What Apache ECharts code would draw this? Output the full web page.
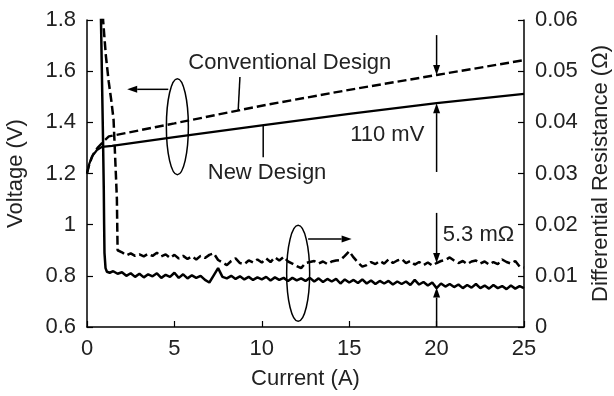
<!DOCTYPE html>
<html>
<head>
<meta charset="utf-8">
<script src="https://cdn.jsdelivr.net/npm/echarts@6/dist/echarts.min.js"></script>
<style>
  html, body { margin: 0; padding: 0; background: #fff; }
  #chart { width: 614px; height: 396px; }
</style>
</head>
<body>
<div id="chart"></div>
<script>
// voltage curves (A, V)
const vNewDesign = [[0, 1.2], [0.1, 1.232], [0.28, 1.266], [0.57, 1.292], [0.86, 1.304], [1.43, 1.308],
  [5, 1.342], [10, 1.388], [15, 1.433], [20, 1.475], [25, 1.511]];
const vConvDesign = [[0, 1.2], [0.15, 1.24], [0.35, 1.275], [0.6, 1.3], [0.9, 1.322], [1.25, 1.345],
  [5, 1.396], [10, 1.465], [15, 1.527], [20, 1.585], [25, 1.643]];

// differential resistance, steep start (A, ohm)
const rNewHead = [[0.79, 0.066], [0.80, 0.060], [0.86, 0.048], [0.92, 0.036], [0.96, 0.027], [0.98, 0.020],
  [1.0, 0.0145], [1.06, 0.0115], [1.14, 0.0108], [1.3, 0.0106], [1.5, 0.0109], [1.75, 0.0104]];
const rConvHead = [[0.90, 0.066], [0.92, 0.060], [1.08, 0.053], [1.24, 0.048], [1.4, 0.044], [1.52, 0.0405],
  [1.65, 0.030], [1.71, 0.025], [1.75, 0.015], [1.85, 0.0147]];

// differential resistance, flat noisy part
const currentGrid = [
  2, 2.25, 2.5, 2.75, 3, 3.25, 3.5, 3.75, 4, 4.25, 4.5, 4.75, 5, 5.25, 5.5, 5.75,
  6, 6.25, 6.5, 6.75, 7, 7.25, 7.5, 7.75, 8, 8.25, 8.5, 8.75, 9, 9.25, 9.5, 9.75,
  10, 10.25, 10.5, 10.75, 11, 11.25, 11.5, 11.75, 12, 12.25, 12.5, 12.75, 13, 13.25, 13.5, 13.75,
  14, 14.25, 14.5, 14.75, 15, 15.25, 15.5, 15.75, 16, 16.25, 16.5, 16.75, 17, 17.25, 17.5, 17.75,
  18, 18.25, 18.5, 18.75, 19, 19.25, 19.5, 19.75, 20, 20.25, 20.5, 20.75, 21, 21.25, 21.5, 21.75,
  22, 22.25, 22.5, 22.75, 23, 23.25, 23.5, 23.75, 24, 24.25, 24.5, 24.75, 25];
const rNewFlat = [
  0.0107, 0.0100, 0.0105, 0.0098, 0.0104, 0.0097, 0.0103, 0.0099, 0.0105, 0.0096, 0.0102, 0.0098, 0.0106, 0.0096, 0.0103, 0.0095,
  0.0101, 0.0096, 0.0100, 0.0092, 0.0087, 0.0101, 0.0115, 0.0098, 0.0095, 0.0100, 0.0094, 0.0099, 0.0093, 0.0098, 0.0092, 0.0097,
  0.0093, 0.0098, 0.0091, 0.0097, 0.0092, 0.0096, 0.0090, 0.0096, 0.0091, 0.0095, 0.0090, 0.0096, 0.0089, 0.0095, 0.0088, 0.0094,
  0.0089, 0.0094, 0.0085, 0.0093, 0.0087, 0.0092, 0.0086, 0.0093, 0.0085, 0.0091, 0.0084, 0.0090, 0.0085, 0.0090, 0.0083, 0.0089,
  0.0084, 0.0089, 0.0082, 0.0092, 0.0083, 0.0088, 0.0081, 0.0087, 0.0076, 0.0085, 0.0079, 0.0084, 0.0078, 0.0083, 0.0076, 0.0082,
  0.0077, 0.0084, 0.0076, 0.0081, 0.0075, 0.0082, 0.0076, 0.0080, 0.0074, 0.0081, 0.0075, 0.0080, 0.0076];
const rConvFlat = [
  0.0146, 0.0140, 0.0144, 0.0139, 0.0142, 0.0138, 0.0143, 0.0139, 0.0145, 0.0138, 0.0142, 0.0135, 0.0141, 0.0134, 0.0139, 0.0133,
  0.0138, 0.0132, 0.0139, 0.0135, 0.0141, 0.0144, 0.0131, 0.0126, 0.0121, 0.0129, 0.0134, 0.0125, 0.0123, 0.0130, 0.0126, 0.0132,
  0.0126, 0.0134, 0.0127, 0.0136, 0.0130, 0.0137, 0.0128, 0.0124, 0.0119, 0.0115, 0.0125, 0.0127, 0.0129, 0.0124, 0.0128, 0.0123,
  0.0128, 0.0130, 0.0131, 0.0139, 0.0148, 0.0136, 0.0126, 0.0118, 0.0121, 0.0127, 0.0123, 0.0129, 0.0124, 0.0132, 0.0125, 0.0130,
  0.0133, 0.0125, 0.0129, 0.0122, 0.0127, 0.0121, 0.0126, 0.0120, 0.0125, 0.0129, 0.0131, 0.0136, 0.0130, 0.0125, 0.0129, 0.0123,
  0.0128, 0.0130, 0.0124, 0.0128, 0.0122, 0.0127, 0.0123, 0.0132, 0.0127, 0.0124, 0.0129, 0.0118, 0.0116];

const FONT = '"Liberation Sans", Arial, sans-serif';
const TEXT = '#222';
const FS = 22;

const chart = echarts.init(document.getElementById('chart'));

const withGrid = (head, flat) => head.concat(currentGrid.map((x, i) => [x, flat[i]]));
const trim = v => String(parseFloat(v.toFixed(3)));

const axisCommon = {
  axisLine: { show: true, lineStyle: { color: '#000', width: 1.5 } },
  axisTick: { show: true, inside: true, length: 6, lineStyle: { color: '#000', width: 1.2 } },
  splitLine: { show: false },
  axisLabel: { color: TEXT, fontSize: FS, fontFamily: FONT, margin: 11, formatter: trim },
  nameTextStyle: { color: TEXT, fontSize: FS, fontFamily: FONT },
  nameLocation: 'middle'
};

const lineSeries = (name, data, yAxisIndex, dashed, width) => ({
  name, type: 'line', data, yAxisIndex,
  showSymbol: false, symbol: 'none', clip: true,
  lineStyle: { color: '#000', width, type: dashed ? [9, 4] : 'solid' }
});

chart.setOption({
  animation: false,
  grid: { left: 87, right: 90, top: 20, bottom: 69, outerBoundsMode: 'none', containLabel: false },
  xAxis: Object.assign({}, axisCommon, {
    type: 'value', min: 0, max: 25, interval: 5,
    name: 'Current (A)', nameGap: 41
  }),
  yAxis: [
    Object.assign({}, axisCommon, {
      type: 'value', min: 0.6, max: 1.8, interval: 0.2, position: 'left',
      name: 'Voltage (V)', nameGap: 60
    }),
    Object.assign({}, axisCommon, {
      type: 'value', min: 0, max: 0.06, interval: 0.01, position: 'right',
      name: 'Differential Resistance (\u03A9)', nameGap: 66
    })
  ],
  series: [
    lineSeries('V new', vNewDesign, 0, false, 2.2),
    lineSeries('V conventional', vConvDesign, 0, true, 2.4),
    lineSeries('R new', withGrid(rNewHead, rNewFlat), 1, false, 2.5),
    lineSeries('R conventional', withGrid(rConvHead, rConvFlat), 1, true, 2.5)
  ]
});

// annotations, anchored in data coordinates
const pv = (x, y) => chart.convertToPixel({ xAxisIndex: 0, yAxisIndex: 0 }, [x, y]);
const pr = (x, y) => chart.convertToPixel({ xAxisIndex: 0, yAxisIndex: 1 }, [x, y]);

function arrow(from, to) {
  const dx = to[0] - from[0], dy = to[1] - from[1];
  const len = Math.hypot(dx, dy), ux = dx / len, uy = dy / len;
  const bx = to[0] - ux * 10, by = to[1] - uy * 10;
  return [
    { type: 'line', shape: { x1: from[0], y1: from[1], x2: bx, y2: by }, style: { stroke: '#000', lineWidth: 1.5 } },
    { type: 'polygon', shape: { points: [to, [bx - uy * 3.5, by + ux * 3.5], [bx + uy * 3.5, by - ux * 3.5]] }, style: { fill: '#000' } }
  ];
}
function line(a, b) {
  return { type: 'line', shape: { x1: a[0], y1: a[1], x2: b[0], y2: b[1] }, style: { stroke: '#000', lineWidth: 1.5 } };
}
function ellipse(c, rx, ry) {
  return { type: 'ellipse', shape: { cx: c[0], cy: c[1], rx, ry }, style: { fill: null, stroke: '#000', lineWidth: 1.5 } };
}
function label(text, p, align) {
  return { type: 'text', x: p[0], y: p[1], style: {
    text, fill: TEXT, fontSize: FS, fontFamily: FONT,
    align, textAlign: align, verticalAlign: 'middle', textVerticalAlign: 'middle' } };
}

const g = [].concat(
  ellipse(pv(5.17, 1.383), 11, 48),
  arrow(pv(4.65, 1.529), pv(2.3, 1.529)),
  label('Conventional Design', pv(11.6, 1.632), 'center'),
  line(pv(8.75, 1.577), pv(8.65, 1.448)),
  label('New Design', pv(10.3, 1.202), 'center'),
  line(pv(10.08, 1.39), pv(10.08, 1.264)),
  label('110 mV', pv(19.3, 1.35), 'right'),
  arrow(pv(20, 1.741), pv(20, 1.585)),
  arrow(pv(20, 1.206), pv(20, 1.475)),
  arrow(pr(20, 0.0223), pr(20, 0.0125)),
  arrow(pr(20, 0), pr(20, 0.0077)),
  label('5.3 m\u03A9', pr(20.35, 0.018), 'left'),
  ellipse(pr(12.08, 0.0105), 11.5, 48),
  arrow(pr(12.65, 0.0172), pr(15.14, 0.0172))
);
chart.setOption({ graphic: g });
</script>
</body>
</html>
